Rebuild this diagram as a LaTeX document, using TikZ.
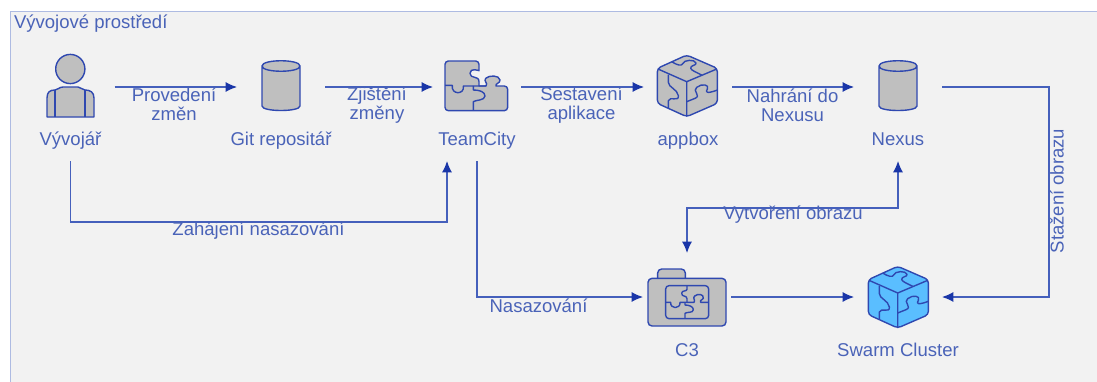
\documentclass[tikz,border=0pt]{standalone}
\usepackage{fontspec}
\setmainfont{Liberation Sans}
\usetikzlibrary{arrows.meta,calc}
\definecolor{stroke}{HTML}{2F48B0}
\definecolor{wire}{HTML}{4560BC}
\definecolor{tipc}{HTML}{1A36A8}
\definecolor{txt}{HTML}{4A63B8}
\definecolor{panelc}{HTML}{F2F2F2}
\definecolor{edgec}{HTML}{AEBBE2}
\definecolor{graybox}{HTML}{BFBFBF}
\definecolor{bluebox}{HTML}{5ABEFF}
\tikzset{
  x=.75pt,y=-.75pt,
  slot/.style={minimum width=66pt,minimum height=66pt,inner sep=0pt,outer sep=0pt},
  captxt/.style={minimum width=75pt,minimum height=33pt,inner sep=0pt,outer sep=0pt,text=txt,text height=13.5pt,text depth=3.5pt,font=\fontsize{13.9}{13.9}\selectfont},
  lbl/.style={inner sep=0pt,outer sep=0pt,text=txt,align=center,font=\fontsize{13.9}{13.9}\selectfont},
  conn/.style={draw=wire,line width=.95pt,-{Latex[length=8.5pt,width=7.5pt,color=tipc]}},
  conntwo/.style={draw=wire,line width=.95pt,{Latex[length=8.5pt,width=7.5pt,color=tipc]}-{Latex[length=8.5pt,width=7.5pt,color=tipc]}},
  ico/.style={draw=stroke,line width=1.05pt,line join=round},
  pics/cube/.style={code={
    \begin{scope}[scale=1/3]
    \draw[ico,fill=#1,rounded corners=2.5pt] (0,-92) -- (92,-52) -- (92,53) -- (0,93) -- (-88,53) -- (-88,-52) -- cycle;
    \draw[ico] (-86,-50) -- (0,-12) -- (90,-50) (0,-12) -- (0,93);
    \draw[ico] (-45,-72) .. controls (-30,-62) and (-15,-58) .. (-12,-66) .. controls (-10,-78) and (25,-80) .. (28,-68) .. controls (30,-60) and (10,-62) .. (12,-52) .. controls (15,-45) and (30,-40) .. (45,-32);
    \draw[ico] (-55,-33) -- (-55,-10) .. controls (-55,5) and (-28,10) .. (-25,30) .. controls (-23,50) and (-50,30) .. (-55,45) -- (-55,68);
    \draw[ico] (0,48) -- (25,38) .. controls (45,30) and (15,15) .. (30,5) .. controls (45,-8) and (70,-3) .. (62,10) .. controls (55,20) and (60,25) .. (92,13);
    \end{scope}
  }},
  pics/barrel/.style={code={
    \draw[ico,fill=graybox] (-19,-21) -- (-19,19) .. controls (-19,25) and (19,25) .. (19,19) -- (19,-21) .. controls (19,-28) and (-19,-28) .. (-19,-21) .. controls (-19,-14) and (19,-14) .. (19,-21);
  }},
}
\begin{document}
\begin{tikzpicture}
\useasboundingbox (0,0) rectangle (1097,382);
\fill[white] (0,0) rectangle (1097,382);
\fill[panelc] (10,11) rectangle (1097,382);
\draw[edgec,line width=.9pt] (10.5,382) -- (10.5,11.5) -- (1097,11.5);
\node[lbl,anchor=west] (title) at (14,23.5) {Vývojové prostředí};

% icon slots
\node[slot] (dev) at (70.5,87) {};
\node[slot] (git) at (281,87) {};
\node[slot] (tc) at (477,87) {};
\node[slot] (app) at (688,87) {};
\node[slot] (nex) at (898,87) {};
\node[slot] (cthree) at (687,297) {};
\node[slot] (swarm) at (898,297) {};

% captions
\node[captxt] (devL) at (70.5,139) {Vývojář};
\node[captxt] (gitL) at (281,139) {Git repositář};
\node[captxt] (tcL) at (477,139) {TeamCity};
\node[captxt] (appL) at (688,139) {appbox};
\node[captxt] (nexL) at (898,139) {Nexus};
\node[captxt] (cthreeL) at (687,350) {C3};
\node[captxt] (swarmL) at (898,350) {Swarm Cluster};

% person
\draw[ico,fill=graybox] (47,117) -- (47,98) .. controls (47,92) and (50,90) .. (55,90) .. controls (58,90) and (59,87) .. (63,87) -- (78,87) .. controls (81,87) and (82,90) .. (85,90) .. controls (90,90) and (94,92) .. (94,98) -- (94,117) -- cycle;
\draw[ico] (55,90) -- (55,117) (85,90) -- (85,117);
\draw[ico,fill=graybox] (70.3,69) circle (14.6);

% cylinders
\pic at (281,87) {barrel};
\pic at (898,87) {barrel};

% puzzle
\begin{scope}[shift={(420,40)},scale=1/3]
\draw[ico,fill=graybox,rounded corners=2.5pt] (75,63) -- (177,63) -- (177,82) [sharp corners] .. controls (177,92) and (150,82) .. (150,100) .. controls (150,118) and (177,105) .. (177,125) -- (177,138) -- (198,138) .. controls (205,128) and (190,125) .. (197,115) .. controls (207,105) and (238,105) .. (240,120) .. controls (241,130) and (225,130) .. (228,138) [rounded corners=2.5pt] -- (263,138) -- (263,212) -- (75,212) -- cycle;
\draw[ico] (75,136) -- (97,136) .. controls (92,165) and (135,165) .. (130,138) -- (198,138);
\draw[ico] (160,138) -- (160,150) .. controls (178,150) and (195,155) .. (195,168) .. controls (195,182) and (165,180) .. (160,185) -- (160,212);
\end{scope}

% appbox + swarm
\pic at (686.7,85.7) {cube=graybox};
\pic at (897.7,297) {cube=bluebox};

% C3
\begin{scope}[shift={(630,250)},scale=1/3]
\draw[ico,fill=graybox,rounded corners=3pt] (83,90) -- (83,57) -- (166,57) -- (166,90);
\draw[ico,fill=graybox,rounded corners=3pt] (54,85) rectangle (288,228);
\draw[ico,rounded corners=2.5pt] (107,107) rectangle (236,206);
\draw[ico] (107,157) -- (122,157) .. controls (120,178) and (152,178) .. (150,157) -- (192,157) .. controls (198,150) and (186,145) .. (194,138) .. controls (204,130) and (222,132) .. (220,145) .. controls (219,150) and (208,150) .. (212,157) -- (236,157);
\draw[ico] (171,107) -- (171,118) .. controls (171,125) and (155,120) .. (155,130) .. controls (155,142) and (171,135) .. (171,146) -- (171,157);
\draw[ico] (165,157) -- (165,165) .. controls (178,165) and (190,170) .. (190,179) .. controls (190,190) and (170,185) .. (165,190) -- (165,206);
\end{scope}

% connectors
\draw[conn] (dev.east) -- (git.west);
\draw[conn] (git.east) -- (tc.west);
\draw[conn] (tc.east) -- (app.west);
\draw[conn] (app.east) -- (nex.west);
\draw[conn] (nex.east) -- (1049,87) -- (1049,297) -- (swarm.east);
\draw[conn] (devL.south) -- (70.5,222) -- (447,222) -- (447,161);
\draw[conn] (tcL.south) -- (477,297) -- (cthree.west);
\draw[conntwo] (cthree.north) -- (687,208) -- (898,208) -- (nexL.south);
\draw[conn] (cthree.east) -- (swarm.west);

% connector labels
\node[lbl] (l1) at (174,104) {Provedení\\změn};
\node[lbl] (l2) at (377,105) {Zjištění\\změny};
\node[lbl] (l3) at (581.5,105) {Sestavení\\aplikace};
\node[lbl] (l4) at (792.5,105) {Nahrání do\\Nexusu};
\node[lbl] (l5) at (258.5,231) {Zahájení nasazování};
\node[lbl] (l6) at (538.5,306) {Nasazování};
\node[lbl] (l7) at (793,215) {Vytvoření obrazu};
\node[lbl,rotate=90] (l8) at (1057,191) {Stažení obrazu};
\end{tikzpicture}
\end{document}
